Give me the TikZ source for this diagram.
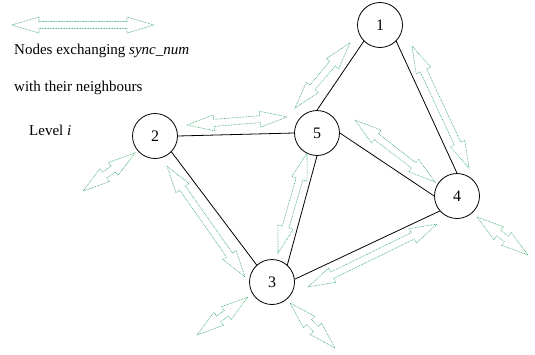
\documentclass[tikz,border=0pt]{standalone}
\usepackage{fontspec}
\setmainfont{Liberation Serif}
\usetikzlibrary{calc}
\definecolor{syncgreen}{RGB}{70,172,118}

% hollow two-headed arrow between two points
\newcommand\syncarrow[2]{%
  \draw[sync] let \p1=($(#2)-(#1)$), \n1={atan2(\y1,\x1)}, \n2={veclen(\x1,\y1)} in
    [shift={(#1)},rotate=\n1] (0,0) -- (27,-8) -- (27,-3.5) -- (\n2-27,-3.5) -- (\n2-27,-8)
    -- (\n2,0) -- (\n2-27,8) -- (\n2-27,3.5) -- (27,3.5) -- (27,8) -- cycle;}

\begin{document}
\begin{tikzpicture}[x=1pt,y=-1pt]
\tikzset{vertex/.style={circle,draw,line width=0.8pt,minimum size=45pt,inner sep=0pt,font=\fontsize{16}{18}\selectfont},
         link/.style={line width=0.8pt},
         sync/.style={syncgreen,line width=0.6pt,dash pattern=on 0.8pt off 0.8pt},
         note/.style={anchor=west,inner sep=0pt,font=\fontsize{15}{17}\selectfont}}
\useasboundingbox (0,0) rectangle (535,354);

\node[vertex] (n1) at (380,25) {1};
\node[vertex] (n5) at (317,133) {5};
\node[vertex] (n2) at (155,136) {2};
\node[vertex] (n3) at (272,282) {3};
\node[vertex] (n4) at (457,196) {4};

\draw[link] (n1.225) -- (n5.90);
\draw[link] (n1.315) -- (n4.90);
\draw[link] (n2.east) -- (n5.west);
\draw[link] (n2.316) -- (n3.132);
\draw[link] (n5.270) -- (n3.48);
\draw[link] (n5.east) -- (n4.180);
\draw[link] (n3.7) -- (n4.221);

\node[note] (t1) at (14,51) {Nodes exchanging \textit{sync\_num}};
\node[note] (t2) at (14,88) {with their neighbours};
\node[note] (t3) at (29,130) {Level \textit{i}};

\syncarrow{12,25}{154,25}
\syncarrow{187,125}{287,117}
\syncarrow{83,191}{135,153}
\syncarrow{167,166}{245,277}
\syncarrow{307,153}{278,253}
\syncarrow{308,287}{437,224}
\syncarrow{197,335}{248,297}
\syncarrow{290,303}{335,348}
\syncarrow{477,217}{528,255}
\syncarrow{355,120}{435,182}
\syncarrow{412,46}{469,168}
\syncarrow{350,43}{295,108}
\end{tikzpicture}
\end{document}
